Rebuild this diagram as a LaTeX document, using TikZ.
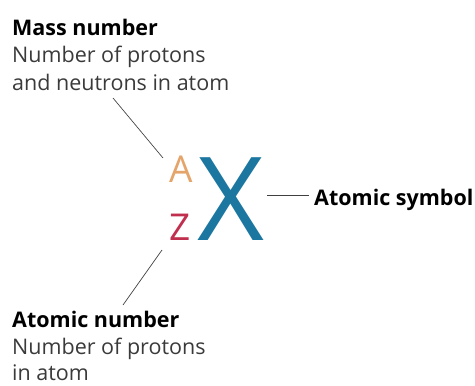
\documentclass[tikz,border=0pt]{standalone}
\usepackage{fontspec}
\setmainfont{Open Sans}
\definecolor{massorange}{HTML}{E4A46A}
\definecolor{atomred}{HTML}{C0304E}
\definecolor{symbolblue}{HTML}{1B76A0}
\definecolor{textgray}{HTML}{3A3A3A}

\begin{document}
\begin{tikzpicture}[x=1pt,y=-1pt]
\useasboundingbox (0,0) rectangle (475,386);
\tikzset{
  label/.style={anchor=base west,inner sep=0pt,font=\fontsize{21.5}{21.5}\selectfont,text=textgray},
  title/.style={label,font=\fontsize{21.5}{21.5}\selectfont\bfseries,text=black},
  pointer/.style={draw=black!75,line width=0.7pt}
}
% letters
\node[anchor=base west,inner sep=0pt,text=symbolblue,font=\fontsize{116}{116}\selectfont] (X) at (197,240) {X};
\node[anchor=base west,inner sep=0pt,text=massorange,font=\fontsize{37}{37}\selectfont] (A) at (169,182) {A};
\node[anchor=base west,inner sep=0pt,text=atomred,font=\fontsize{37}{37}\selectfont] (Z) at (169,240) {Z};
% texts
\node[title] (mass) at (12,35) {Mass number};
\node[label] (mass1) at (12,62) {Number of protons};
\node[label] (mass2) at (12,90) {and neutrons in atom};
\node[title] (atomic) at (12,327) {Atomic number};
\node[label] (atomic1) at (12,354) {Number of protons};
\node[label] (atomic2) at (12,380) {in atom};
\node[title] (sym) at (314,205) {Atomic symbol};
% pointers
\coordinate (m1) at (113,98);
\coordinate (m2) at (163,158);
\coordinate (z1) at (162,250);
\coordinate (z2) at (123,305);
\coordinate (s1) at (267,195);
\coordinate (s2) at (309,195);
\draw[pointer] (m1) -- (m2);
\draw[pointer] (z1) -- (z2);
\draw[pointer] (s1) -- (s2);
\end{tikzpicture}
\end{document}
